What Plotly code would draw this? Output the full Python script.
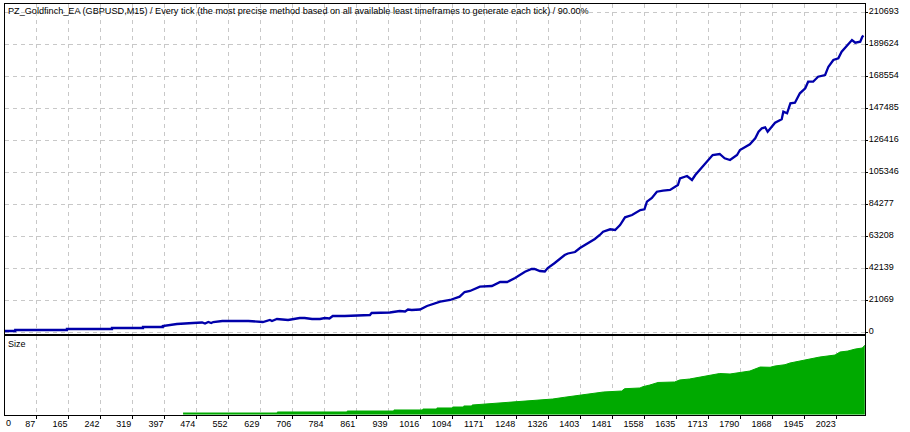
import plotly.graph_objects as go

W, H = 910, 432
title_text = "PZ_Goldfinch_EA (GBPUSD,M15) / Every tick (the most precise method based on all available least timeframes to generate each tick) / 90.00%"
size_label = "Size"

trades = [11, 36, 36, 161, 161, 270, 270, 345, 345, 393, 393, 415, 427, 466, 488, 495, 503, 510, 515,
          537, 600, 635, 652, 657, 669, 696, 724, 736, 754, 773, 785, 796, 804, 833, 853, 894, 898, 942,
          966, 979, 986, 995, 1015, 1032, 1064, 1088, 1111, 1123, 1136, 1160, 1189, 1209, 1226, 1245,
          1269, 1285, 1292, 1305, 1317, 1324, 1341, 1365, 1373, 1390, 1402, 1414, 1426, 1438, 1450,
          1458, 1475, 1487, 1499, 1511, 1528, 1548, 1558, 1564, 1576, 1588, 1603, 1620, 1639, 1644,
          1661, 1673, 1681, 1705, 1723, 1740, 1752, 1765, 1782, 1789, 1813, 1826, 1834, 1842, 1850,
          1856, 1866, 1874, 1890, 1894, 1903, 1911, 1922, 1934, 1947, 1954, 1966, 1978, 1995, 2003,
          2015, 2027, 2035, 2052, 2060, 2068, 2080, 2085, 2088]
equity = [988, 988, 1646, 1646, 2304, 2304, 2963, 2963, 3621, 3621, 4280, 4938, 5596, 6255, 6584, 5926,
          6913, 6255, 6913, 7572, 7572, 6913, 8230, 7572, 8888, 8230, 9547, 9547, 8888, 8888, 9547,
          9218, 10864, 10864, 11193, 11522, 12839, 13168, 14156, 13827, 15143, 14814, 15143, 17448,
          20279, 21398, 23571, 26665, 27324, 30155, 30616, 33249, 33249, 35883, 40031, 41808, 41808,
          40492, 40162, 42468, 45759, 51026, 52014, 53001, 55635, 57610, 59586, 61561, 64194, 66367,
          67947, 67486, 70778, 75848, 77362, 80654, 81115, 86119, 88555, 92703, 93361, 93822, 97114,
          101526, 103041, 100408, 103699, 111401, 116866, 117524, 114693, 113570, 116866, 120158,
          123911, 127861, 132207, 134445, 135103, 132207, 135103, 138131, 140371, 145375, 144320,
          150905, 151300, 157489, 160781, 165127, 165127, 168417, 169538, 175003, 179414, 180533,
          184879, 189948, 192582, 190804, 191463, 194754, 195413]

size_x = [442, 670, 670, 839, 839, 952, 952, 1022, 1022, 1056, 1056, 1094, 1094, 1121, 1121, 1141, 1141,
          1247, 1267, 1322, 1336, 1365, 1390, 1407,
          1443, 1459, 1503, 1510, 1547, 1554, 1571, 1591, 1631, 1643, 1667, 1692, 1711, 1740, 1765,
          1789, 1813, 1838, 1862, 1874, 1898, 1910, 1934, 1953, 1982, 2019, 2031, 2050, 2068, 2085, 2091]
size_y = [2.1, 2.1, 3.4, 3.4, 4.6, 4.6, 5.9, 5.9, 7.1, 7.1, 8.4, 8.4, 9.6, 9.6, 10.9, 10.9, 12.1,
          15.9, 17.1, 18.4, 19.6, 21.8, 23.4, 24.6,
          26.5, 28.4, 29.6, 32.5, 33.4, 35, 37.1, 40.3, 40.9, 43.4, 44.6, 46.8, 48.8, 51.5, 50.9,
          52.5, 54.6, 59.6, 59.3, 60.9, 62.5, 64.6, 67.1, 69.6, 72.1, 74.6, 78.4, 79.6, 82.1, 83.4, 86.8]

x_ticks = [87, 165, 242, 319, 397, 474, 552, 629, 706, 784, 861, 939, 1016, 1094, 1171, 1248, 1326,
           1403, 1481, 1558, 1635, 1713, 1790, 1868, 1945, 2023]
y_ticks = [0, 21069, 42139, 63208, 84277, 105346, 126416, 147485, 168554, 189624, 210693]

FONT = "Liberation Sans"
FS = 9
GRID = "#C8C8C8"
DASH = "4px,4px"

fig = go.Figure()
fig.add_trace(go.Scatter(x=trades, y=equity, mode="lines", xaxis="x", yaxis="y",
                         line=dict(color="#0000AA", width=2.3), hoverinfo="skip", showlegend=False))
fig.add_trace(go.Scatter(x=size_x, y=size_y, mode="lines", xaxis="x2", yaxis="y2", fill="tozeroy",
                         fillcolor="#00AA00", line=dict(color="#00AA00", width=1),
                         hoverinfo="skip", showlegend=False))

xcommon = dict(range=[10, 2091.5], tickvals=x_ticks, ticktext=[str(t) for t in x_ticks],
               showgrid=True, gridcolor=GRID, griddash=DASH, gridwidth=1, zeroline=False,
               showline=True, linecolor="black", linewidth=1, mirror=True, automargin=False)
fig.update_layout(
    width=W, height=H, margin=dict(l=0, r=0, t=0, b=0), autosize=False,
    paper_bgcolor="white", plot_bgcolor="white",
    font=dict(family=FONT, size=FS, color="black"),
    xaxis=dict(domain=[4.5 / W, 865 / W], anchor="y", showticklabels=False, ticks="", **xcommon),
    xaxis2=dict(domain=[4.5 / W, 865 / W], anchor="y2", ticks="outside", ticklen=3, tickcolor="black",
                tickwidth=1, ticklabelposition="outside left", tickfont=dict(family=FONT, size=FS),
                **xcommon),
    yaxis=dict(domain=[1 - 333.7 / H, 1 - 4.3 / H], range=[-790, 216090], anchor="x", side="right",
               tickvals=y_ticks, ticktext=[str(t) for t in y_ticks], ticks="outside", ticklen=2,
               tickcolor="black", tickwidth=1, showgrid=True, gridcolor=GRID, griddash=DASH, gridwidth=1,
               zeroline=False, showline=True, linecolor="black", linewidth=1, mirror=True,
               automargin=False, ticklabelshift=-2, ticklabelstandoff=-1,
               tickfont=dict(family=FONT, size=FS)),
    yaxis2=dict(domain=[1 - 414.7 / H, 1 - 336 / H], range=[0, 98.4], anchor="x2", side="right",
                showticklabels=False, ticks="", showgrid=False, zeroline=False, showline=True,
                linecolor="black", linewidth=1, mirror=True, automargin=False),
    annotations=[
        dict(text=title_text, xref="paper", yref="paper", x=5.5 / W, y=1 - 11 / H, xanchor="left",
             yanchor="middle", showarrow=False, font=dict(family=FONT, size=9.15), align="left"),
        dict(text=size_label, xref="paper", yref="paper", x=5.5 / W, y=1 - 344 / H, xanchor="left",
             yanchor="middle", showarrow=False, font=dict(family=FONT, size=FS)),
        dict(text="0", xref="paper", yref="paper", x=3.5 / W, y=1 - 423 / H, xanchor="left",
             yanchor="middle", showarrow=False, font=dict(family=FONT, size=FS)),
    ],
)
fig.write_html("out.html", config=dict(displayModeBar=False), post_script="document.body.style.margin='0';")
